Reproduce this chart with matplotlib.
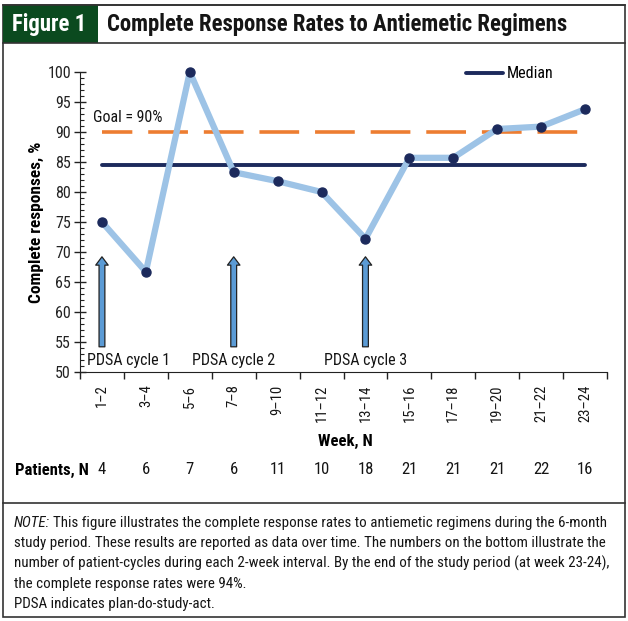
import matplotlib
matplotlib.use("Agg")
import matplotlib.pyplot as plt
from matplotlib.patches import Rectangle
from matplotlib.ticker import MultipleLocator, FixedLocator
import numpy as np

# data
weeks = ["1\u20132", "3\u20134", "5\u20136", "7\u20138", "9\u201310", "11\u201312",
         "13\u201314", "15\u201316", "17\u201318", "19\u201320", "21\u201322", "23\u201324"]
response = [75.0, 66.7, 100.0, 83.3, 81.8, 80.0, 72.2, 85.7, 85.7, 90.5, 90.9, 93.8]
patients = [4, 6, 7, 6, 11, 10, 18, 21, 21, 21, 22, 16]
median = 84.5
goal = 90
pdsa_weeks = [0, 3, 6]
pdsa_labels = ["PDSA cycle 1", "PDSA cycle 2", "PDSA cycle 3"]

plt.rcParams["font.family"] = ["Roboto Condensed", "DejaVu Sans"]

navy = "#1c2a5c"
light = "#9dc3e6"
orange = "#ed7d31"
arrow_blue = "#5b9bd5"
green = "#0b4a1f"
ink = "#151515"

W, H = 628, 621
fig = plt.figure(figsize=(W / 100, H / 100), dpi=100)

def fx(px):
    return px / W

def fy(py):
    return 1 - py / H

# frame + header
fig.patches.append(Rectangle((fx(3), fy(617)), fx(622), 612 / H, transform=fig.transFigure,
                             fill=False, ec="#333333", lw=1.2))
fig.patches.append(Rectangle((fx(3), fy(43)), fx(95), 38 / H, transform=fig.transFigure,
                             fc=green, ec="none"))
for yy in (5, 43, 503):
    fig.add_artist(plt.Line2D([fx(3), fx(625)], [fy(yy), fy(yy)], color="#333333", lw=1.2))
fig.text(fx(12), fy(25), "Figure 1", color="white", fontsize=16.4, weight="bold",
         va="center", ha="left")
fig.text(fx(107), fy(25), "Complete Response Rates to Antiemetic Regimens", color=ink,
         fontsize=16.4, weight="bold", va="center", ha="left")

ax = fig.add_axes([fx(80), fy(372), fx(527), 300 / H])
x = np.arange(len(weeks))

ax.plot([x[0], x[-1]], [median, median], color=navy, lw=2.8, solid_capstyle="round",
        label="Median", zorder=2)
ax.plot([x[0], x[-1]], [goal, goal], color=orange, lw=2.6, linestyle=(2.6, (11, 4.4)), zorder=2)
ax.plot(x, response, color=light, lw=4.5, zorder=3, clip_on=False)
ax.plot(x, response, "o", color=navy, ms=6.5, zorder=4, clip_on=False)

for i, lab, lx in zip(pdsa_weeks, pdsa_labels, [0.6, 3, 6]):
    ax.annotate("", xy=(i, 69.2), xytext=(i, 54.2),
                arrowprops=dict(arrowstyle="simple,head_width=0.9,head_length=0.6,tail_width=0.42",
                                fc=arrow_blue, ec="#222222", lw=0.9, shrinkA=0, shrinkB=0))
    ax.text(lx, 51.9, lab, ha="center", va="center", fontsize=11.5, color=ink)

ax.text(-0.2, 92.4, "Goal = 90%", ha="left", va="center", fontsize=11.5, color=ink)

ax.set_xlim(-0.5, len(weeks) - 0.5)
ax.set_ylim(50, 100)
ax.spines["top"].set_visible(False)
ax.spines["right"].set_visible(False)
ax.spines["left"].set_color("#222222")
ax.spines["bottom"].set_color("#222222")

ax.yaxis.set_major_locator(MultipleLocator(5))
ax.yaxis.set_minor_locator(MultipleLocator(1))
ax.tick_params(axis="y", which="major", direction="inout", length=9, width=1,
               labelsize=11.5, pad=2, colors="#222222")
ax.tick_params(axis="y", which="minor", direction="in", length=3, width=0.8, colors="#222222")

ax.xaxis.set_major_locator(FixedLocator(np.arange(-0.5, len(weeks), 1.0)))
ax.xaxis.set_minor_locator(FixedLocator(x))
ax.xaxis.set_major_formatter(plt.NullFormatter())
ax.xaxis.set_minor_formatter(plt.FixedFormatter(weeks))
ax.tick_params(axis="x", which="major", direction="out", length=5, width=1, colors="#222222")
ax.tick_params(axis="x", which="minor", length=0, pad=9, labelsize=10.5,
               labelrotation=90, labelcolor=ink)

ax.set_ylabel("Complete responses, %", fontsize=12.5, weight="bold")
ax.yaxis.set_label_coords(-0.068, 0.5)

ax.legend(loc="center left", bbox_to_anchor=(fx(466), fy(74)), bbox_transform=fig.transFigure,
          frameon=False, fontsize=11.5, handlelength=2.3, handletextpad=0.25,
          borderpad=0, borderaxespad=0)

fig.text(fx(345), fy(441), "Week, N", ha="center", va="center", fontsize=12, weight="bold")
fig.text(fx(15), fy(470), "Patients, N", ha="left", va="center", fontsize=12, weight="bold")
for i, n in enumerate(patients):
    px = 80 + 527 / 12 * (i + 0.5)
    fig.text(fx(px), fy(470), str(n), ha="center", va="center", fontsize=12, color=ink)

# footnote
note_lines = [
    "This figure illustrates the complete response rates to antiemetic regimens during the 6-month",
    "study period. These results are reported as data over time. The numbers on the bottom illustrate the",
    "number of patient-cycles during each 2-week interval. By the end of the study period (at week 23-24),",
    "the complete response rates were 94%.",
    "PDSA indicates plan-do-study-act.",
]
note_fs = 10.8
t = fig.text(fx(14), fy(527), "NOTE:", style="italic", fontsize=note_fs, ha="left",
             va="baseline", color=ink)
fig.canvas.draw()
ext = t.get_window_extent(renderer=fig.canvas.get_renderer())
fig.text(fx(ext.x1 + 3), fy(527), note_lines[0], fontsize=note_fs, ha="left",
         va="baseline", color=ink)
for k, line in enumerate(note_lines[1:]):
    fig.text(fx(14), fy(527 + 20.3 * (k + 1)), line, fontsize=note_fs, ha="left",
             va="baseline", color=ink)

fig.savefig("out.png", dpi=100)
